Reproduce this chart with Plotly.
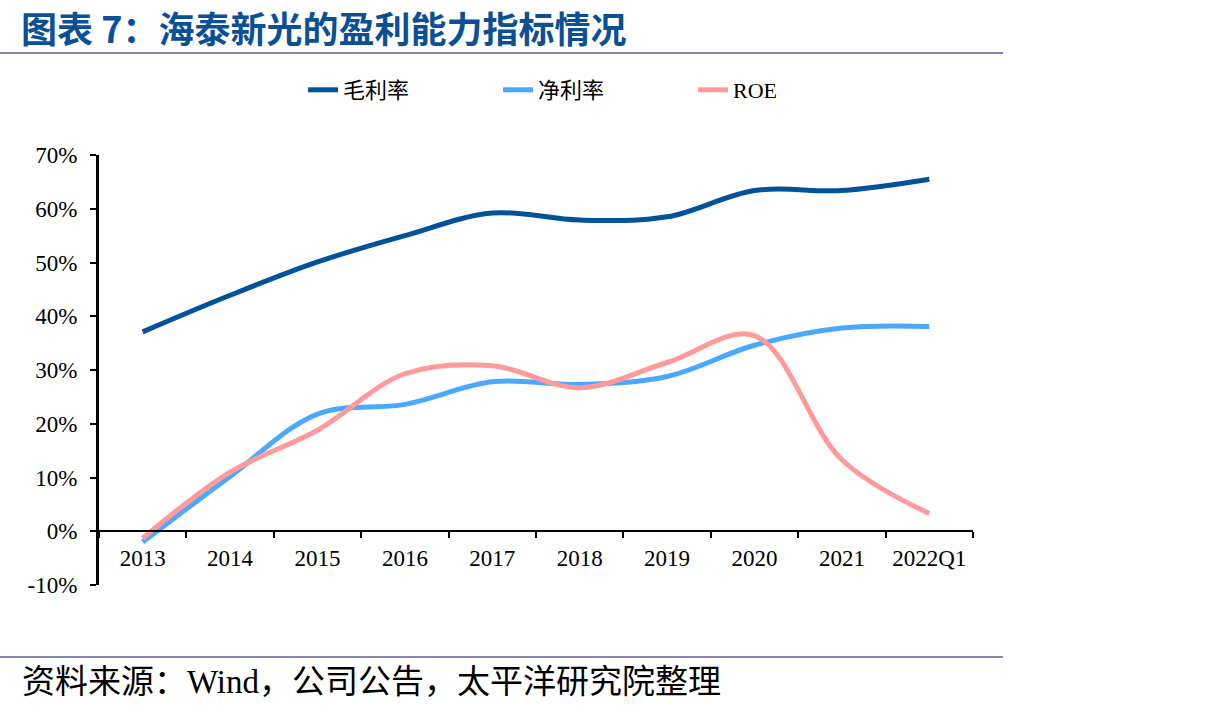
import plotly.graph_objects as go

categories = ["2013", "2014", "2015", "2016", "2017", "2018", "2019", "2020", "2021", "2022Q1"]
gross_margin = [37.1, 43.9, 50.1, 55.0, 59.2, 57.9, 58.5, 63.4, 63.4, 65.5]
net_margin = [-2.0, 10.2, 21.8, 23.6, 27.8, 27.3, 28.8, 34.6, 37.8, 38.1]
roe = [-1.3, 11.0, 18.8, 29.3, 30.8, 26.7, 31.4, 36.4, 13.3, 3.3]
y_ticks = [-10, 0, 10, 20, 30, 40, 50, 60, 70]
y_tick_labels = ["-10%", "0%", "10%", "20%", "30%", "40%", "50%", "60%", "70%"]

W, H = 1224, 711
L, R, T, B = 99, 973, 155, 585


def px(x):
    return (x - L) / (R - L)


def py(y):
    return (B - y) / (B - T)


fig = go.Figure()
series = [
    ("毛利率", gross_margin, "#00539B"),
    ("净利率", net_margin, "#4AA8FF"),
    ("ROE", roe, "#FF9A9A"),
]
for name, vals, color in series:
    fig.add_trace(go.Scatter(
        x=categories, y=vals, name=name, mode="lines",
        line=dict(color=color, width=5, shape="spline", smoothing=1.0),
        hoverinfo="skip",
    ))

serif = "Liberation Serif, Noto Sans CJK SC"

fig.update_layout(
    width=W, height=H,
    margin=dict(l=L, r=W - R, t=T, b=H - B),
    paper_bgcolor="white", plot_bgcolor="white",
    showlegend=True,
    legend=dict(
        orientation="h", xref="container", yref="container",
        x=303 / W, y=1 - 90 / H, xanchor="left", yanchor="middle",
        font=dict(family=serif, size=22, color="black"),
        entrywidth=150, entrywidthmode="pixels",
        bgcolor="rgba(0,0,0,0)",
    ),
    xaxis=dict(
        type="category", range=[-0.5, 9.5],
        anchor="free", position=10 / 80,
        showline=True, linecolor="black", linewidth=2,
        ticks="outside", ticklen=6, tickwidth=2, tickcolor="black",
        tickson="boundaries", showgrid=False, zeroline=False,
        tickfont=dict(family=serif, size=23, color="black"),
        ticklabelstandoff=6,
        fixedrange=True,
    ),
    yaxis=dict(
        range=[-10, 70], tickvals=y_ticks, ticktext=y_tick_labels,
        showline=True, linecolor="black", linewidth=3,
        ticks="outside", ticklen=6, tickwidth=2, tickcolor="black",
        showgrid=False, zeroline=False,
        tickfont=dict(family=serif, size=23, color="black"),
        ticklabelstandoff=8,
        fixedrange=True,
    ),
    hovermode=False,
)

fig.add_annotation(
    text="<b>图表 7：海泰新光的盈利能力指标情况</b>",
    xref="paper", yref="paper", x=px(20), y=py(27),
    xanchor="left", yanchor="middle", showarrow=False, borderpad=0,
    font=dict(family="Noto Sans CJK SC", size=36, color="#0B4F96"),
)
fig.add_annotation(
    text="资料来源：Wind，公司公告，太平洋研究院整理",
    xref="paper", yref="paper", x=px(20), y=py(682),
    xanchor="left", yanchor="middle", showarrow=False,
    font=dict(family=serif, size=33, color="black"),
)
for yline in (53, 657):
    fig.add_shape(
        type="line", xref="paper", yref="paper",
        x0=px(0), x1=px(1003), y0=py(yline), y1=py(yline),
        line=dict(color="#8A86B4", width=2),
    )

fig.write_html("out.html")
